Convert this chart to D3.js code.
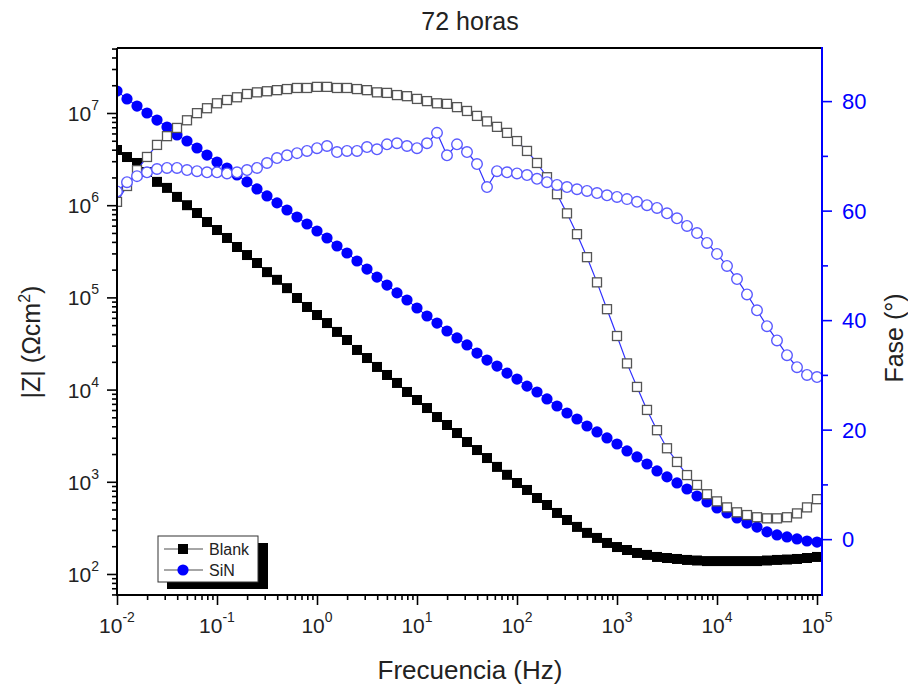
<!DOCTYPE html>
<html>
<head>
<meta charset="utf-8">
<script src="https://cdn.jsdelivr.net/npm/d3@7"></script>
<style>
body { margin: 0; background: #fff; }
svg { font-family: "Liberation Sans", Arial, sans-serif; }
</style>
</head>
<body>
<svg id="chart" width="908" height="686"></svg>
<script>
// frequency grid (Hz), 10 points per decade
var freq = [
	0.01, 0.01259, 0.01585, 0.01995, 0.02512, 0.03162, 0.03981, 0.05012, 0.0631, 0.07943,
	0.1, 0.1259, 0.1585, 0.1995, 0.2512, 0.3162, 0.3981, 0.5012, 0.631, 0.7943,
	1, 1.259, 1.585, 1.995, 2.512, 3.162, 3.981, 5.012, 6.31, 7.943,
	10, 12.59, 15.85, 19.95, 25.12, 31.62, 39.81, 50.12, 63.1, 79.43,
	100, 125.9, 158.5, 199.5, 251.2, 316.2, 398.1, 501.2, 631, 794.3,
	1000, 1259, 1585, 1995, 2512, 3162, 3981, 5012, 6310, 7943,
	10000, 12590, 15850, 19950, 25120, 31620, 39810, 50120, 63100, 79430,
	100000
]

// |Z| (ohm cm2)
var blankZ = [
	3.97e6, 3.33e6, 2.87e6, 2.29e6, 1.79e6, 1.54e6, 1.23e6, 1.00e6, 8.23e5, 6.57e5,
	5.38e5, 4.41e5, 3.52e5, 2.88e5, 2.36e5, 1.88e5, 1.55e5, 1.26e5, 9.85e4, 7.87e4,
	6.44e4, 5.27e4, 4.22e4, 3.45e4, 2.69e4, 2.20e4, 1.76e4, 1.44e4, 1.18e4, 9.42e3,
	7.71e3, 6.31e3, 5.04e3, 4.13e3, 3.38e3, 2.70e3, 2.21e3, 1.81e3, 1.45e3, 1.19e3,
	970, 815, 667, 560, 459, 385, 324, 279, 246, 217,
	196, 182, 169, 161, 153, 149, 145.5, 142, 140, 138,
	138, 138, 138, 138, 138, 140, 142, 143.5, 145.5, 149,
	153
]
var sinZ = [
	1.73e7, 1.42e7, 1.19e7, 1.00e7, 8.39e6, 7.05e6, 5.77e6, 4.97e6, 4.17e6, 3.50e6,
	2.94e6, 2.53e6, 2.13e6, 1.79e6, 1.50e6, 1.26e6, 1.06e6, 8.87e5, 7.45e5, 6.25e5,
	5.25e5, 4.41e5, 3.61e5, 3.03e5, 2.48e5, 2.03e5, 1.66e5, 1.36e5, 1.12e5, 9.37e4,
	7.67e4, 6.28e4, 5.27e4, 4.32e4, 3.63e4, 3.05e4, 2.49e4, 2.09e4, 1.80e4, 1.51e4,
	1.30e4, 1.09e4, 9.42e3, 7.91e3, 6.64e3, 5.57e3, 4.80e3, 4.03e3, 3.47e3, 2.99e3,
	2.57e3, 2.16e3, 1.86e3, 1.56e3, 1.31e3, 1.13e3, 971, 835, 701, 604,
	520, 459, 405, 357, 323, 286, 265, 252, 240, 228,
	222
]

// phase (degrees)
var blankPhase = [
	61.6, 64.5, 67.4, 69.8, 72.0, 73.6, 75.1, 76.5, 77.8, 78.7,
	79.6, 80.2, 80.7, 81.3, 81.6, 81.8, 82.0, 82.2, 82.4, 82.4,
	82.6, 82.6, 82.4, 82.4, 82.2, 82.0, 81.6, 81.5, 81.1, 80.9,
	80.4, 80.0, 79.6, 79.5, 78.9, 78.2, 77.3, 76.3, 75.3, 74.2,
	72.7, 70.9, 68.7, 66.1, 63.0, 59.5, 55.7, 51.5, 46.9, 42.0,
	37.1, 32.1, 27.8, 23.6, 19.9, 16.6, 14.1, 11.7, 9.9, 8.2,
	6.9, 5.8, 4.9, 4.4, 4.0, 3.8, 3.8, 4.0, 4.7, 5.8,
	7.3
]
var sinPhase = [
	63.5, 65.2, 66.3, 67.0, 67.6, 67.8, 67.8, 67.4, 67.2, 67.0,
	67.0, 66.8, 67.0, 67.4, 67.8, 68.7, 69.6, 70.1, 70.5, 70.9,
	71.4, 71.8, 70.7, 70.9, 70.9, 71.6, 71.2, 72.1, 72.3, 71.8,
	71.4, 72.3, 74.2, 70.1, 72.1, 70.7, 68.5, 64.3, 67.2, 67.0,
	66.8, 66.5, 65.8, 65.2, 64.7, 64.3, 63.9, 63.6, 63.2, 62.8,
	62.5, 62.1, 61.6, 61.0, 60.5, 59.5, 58.6, 57.2, 55.9, 54.1,
	52.1, 49.9, 47.5, 44.7, 41.8, 38.9, 36.3, 33.6, 31.4, 30.0,
	29.6
]

var xMajor = [1e-2, 1e-1, 1, 1e1, 1e2, 1e3, 1e4, 1e5]
var xLabels = ["-2", "-1", "0", "1", "2", "3", "4", "5"]
var zMajor = [1e2, 1e3, 1e4, 1e5, 1e6, 1e7]
var zLabels = ["2", "3", "4", "5", "6", "7"]
var phaseMajor = [0, 20, 40, 60, 80]
var phaseMinor = [10, 30, 50, 70]

var L = 117, R = 822, T = 48, B = 595
var textColor = "#222"
var blue = "#0000ff"

var svg = d3.select("#chart")

var x = d3.scaleLog().domain([1e-2, Math.pow(10, 5.05)]).range([L, R])
var yZ = d3.scaleLog().domain([Math.pow(10, 1.772), Math.pow(10, 7.705)]).range([B, T])
var yP = d3.scaleLinear().domain([-10.2, 89.7]).range([B, T])

function isMajor(v) {
	let e = Math.log10(v)
	return Math.abs(e - Math.round(e)) < 1e-6
}

var xMinor = x.ticks().filter(v => !isMajor(v))
var zMinor = yZ.ticks().filter(v => !isMajor(v))

function styleTicks(g, color) {
	g.select(".domain").remove()
	g.selectAll(".tick line").attr("stroke", color).attr("stroke-width", 1.6)
	g.selectAll(".tick text").remove()
}

// bottom axis
svg.append("g")
.attr("transform", "translate(0," + B + ")")
.call(d3.axisBottom(x).tickValues(xMinor).tickSize(5))
.call(g => styleTicks(g, "#000"))
svg.append("g")
.attr("transform", "translate(0," + B + ")")
.call(d3.axisBottom(x).tickValues(xMajor).tickSize(10))
.call(g => styleTicks(g, "#000"))

// left axis
svg.append("g")
.attr("transform", "translate(" + L + ",0)")
.call(d3.axisLeft(yZ).tickValues(zMinor).tickSize(5))
.call(g => styleTicks(g, "#000"))
svg.append("g")
.attr("transform", "translate(" + L + ",0)")
.call(d3.axisLeft(yZ).tickValues(zMajor).tickSize(10))
.call(g => styleTicks(g, "#000"))

// right axis
svg.append("g")
.attr("transform", "translate(" + R + ",0)")
.call(d3.axisRight(yP).tickValues(phaseMinor).tickSize(6))
.call(g => styleTicks(g, blue))
svg.append("g")
.attr("transform", "translate(" + R + ",0)")
.call(d3.axisRight(yP).tickValues(phaseMajor).tickSize(10))
.call(g => styleTicks(g, blue))

// tick labels
var xl = svg.append("g")
.selectAll("text")
.data(xMajor)
.join("text")
.attr("x", d => x(d))
.attr("y", 633)
.attr("text-anchor", "middle")
.attr("fill", textColor)
.style("font-size", "21px")
xl.append("tspan").text("10")
xl.append("tspan").attr("dy", -11).style("font-size", "14px").text((d, i) => xLabels[i])

var zl = svg.append("g")
.selectAll("text")
.data(zMajor)
.join("text")
.attr("x", 99)
.attr("y", d => yZ(d) + 8)
.attr("text-anchor", "end")
.attr("fill", textColor)
.style("font-size", "21px")
zl.append("tspan").text("10")
zl.append("tspan").attr("dy", -11).style("font-size", "14px").text((d, i) => zLabels[i])

svg.append("g")
.selectAll("text")
.data(phaseMajor)
.join("text")
.attr("x", 842)
.attr("y", d => yP(d) + 8)
.attr("fill", blue)
.style("font-size", "22px")
.text(d => d)

// data
svg.append("clipPath").attr("id", "clip")
.append("rect").attr("x", L).attr("y", T).attr("width", R - L).attr("height", B - T)

var plot = svg.append("g").attr("clip-path", "url(#clip)")

var ptsBlankZ = freq.map((f, i) => [x(f), yZ(blankZ[i])])
var ptsSinZ = freq.map((f, i) => [x(f), yZ(sinZ[i])])
var ptsBlankP = freq.map((f, i) => [x(f), yP(blankPhase[i])])
var ptsSinP = freq.map((f, i) => [x(f), yP(sinPhase[i])])

var line = d3.line()

plot.append("path").attr("d", line(ptsBlankZ)).attr("fill", "none").attr("stroke", "#000").attr("stroke-width", 1)
plot.selectAll(".bz")
.data(ptsBlankZ)
.join("rect")
.classed("bz", true)
.attr("x", d => d[0] - 5)
.attr("y", d => d[1] - 5)
.attr("width", 10)
.attr("height", 10)
.attr("fill", "#000")

plot.append("path").attr("d", line(ptsSinZ)).attr("fill", "none").attr("stroke", blue).attr("stroke-width", 1)
plot.selectAll(".sz")
.data(ptsSinZ)
.join("circle")
.classed("sz", true)
.attr("cx", d => d[0])
.attr("cy", d => d[1])
.attr("r", 5.6)
.attr("fill", blue)

plot.append("path").attr("d", line(ptsBlankP)).attr("fill", "none").attr("stroke", "#3030ff").attr("stroke-width", 1.2)
plot.selectAll(".bp")
.data(ptsBlankP)
.join("rect")
.classed("bp", true)
.attr("x", d => d[0] - 4.5)
.attr("y", d => d[1] - 4.5)
.attr("width", 9)
.attr("height", 9)
.attr("fill", "#fff")
.attr("stroke", "#555")
.attr("stroke-width", 1.3)

plot.append("path").attr("d", line(ptsSinP)).attr("fill", "none").attr("stroke", "#3030ff").attr("stroke-width", 1.2)
plot.selectAll(".sp")
.data(ptsSinP)
.join("circle")
.classed("sp", true)
.attr("cx", d => d[0])
.attr("cy", d => d[1])
.attr("r", 5.3)
.attr("fill", "#fff")
.attr("stroke", "#5a5aff")
.attr("stroke-width", 1.4)

// frame
svg.append("line").attr("x1", L).attr("x2", R).attr("y1", T).attr("y2", T).attr("stroke", "#000").attr("stroke-width", 2)
svg.append("line").attr("x1", L).attr("x2", R).attr("y1", B).attr("y2", B).attr("stroke", "#000").attr("stroke-width", 2)
svg.append("line").attr("x1", L).attr("x2", L).attr("y1", T).attr("y2", B + 1).attr("stroke", "#000").attr("stroke-width", 2)
svg.append("line").attr("x1", R).attr("x2", R).attr("y1", T - 1).attr("y2", B + 1).attr("stroke", blue).attr("stroke-width", 2)

// legend
var leg = svg.append("g")
leg.append("rect").attr("x", 167).attr("y", 543).attr("width", 101).attr("height", 46).attr("fill", "#000")
leg.append("rect").attr("x", 158).attr("y", 536).attr("width", 100).attr("height", 46).attr("fill", "#fff").attr("stroke", "#333").attr("stroke-width", 1)
leg.append("line").attr("x1", 164).attr("x2", 203).attr("y1", 549).attr("y2", 549).attr("stroke", "#888").attr("stroke-width", 1.5)
leg.append("rect").attr("x", 178).attr("y", 544).attr("width", 10).attr("height", 10).attr("fill", "#000")
leg.append("text").attr("x", 209).attr("y", 555).attr("fill", textColor).style("font-size", "16px").text("Blank")
leg.append("line").attr("x1", 164).attr("x2", 203).attr("y1", 570).attr("y2", 570).attr("stroke", "#888").attr("stroke-width", 1.5)
leg.append("circle").attr("cx", 183).attr("cy", 570).attr("r", 5.6).attr("fill", blue)
leg.append("text").attr("x", 209).attr("y", 576).attr("fill", textColor).style("font-size", "16px").text("SiN")

// titles
svg.append("text")
.attr("x", 470)
.attr("y", 30)
.attr("text-anchor", "middle")
.attr("fill", textColor)
.style("font-size", "25px")
.text("72 horas")

svg.append("text")
.attr("x", 470)
.attr("y", 679)
.attr("text-anchor", "middle")
.attr("fill", textColor)
.style("font-size", "26px")
.text("Frecuencia (Hz)")

var yt = svg.append("text")
.attr("transform", "translate(40,342) rotate(-90)")
.attr("text-anchor", "middle")
.attr("fill", textColor)
.style("font-size", "25px")
yt.append("tspan").text("|Z| (\u03A9cm")
yt.append("tspan").attr("dy", -10).style("font-size", "16px").text("2")
yt.append("tspan").attr("dy", 10).text(")")

svg.append("text")
.attr("transform", "translate(903,338) rotate(-90)")
.attr("text-anchor", "middle")
.attr("fill", textColor)
.style("font-size", "25px")
.text("Fase (\u00B0)")
</script>
</body>
</html>
